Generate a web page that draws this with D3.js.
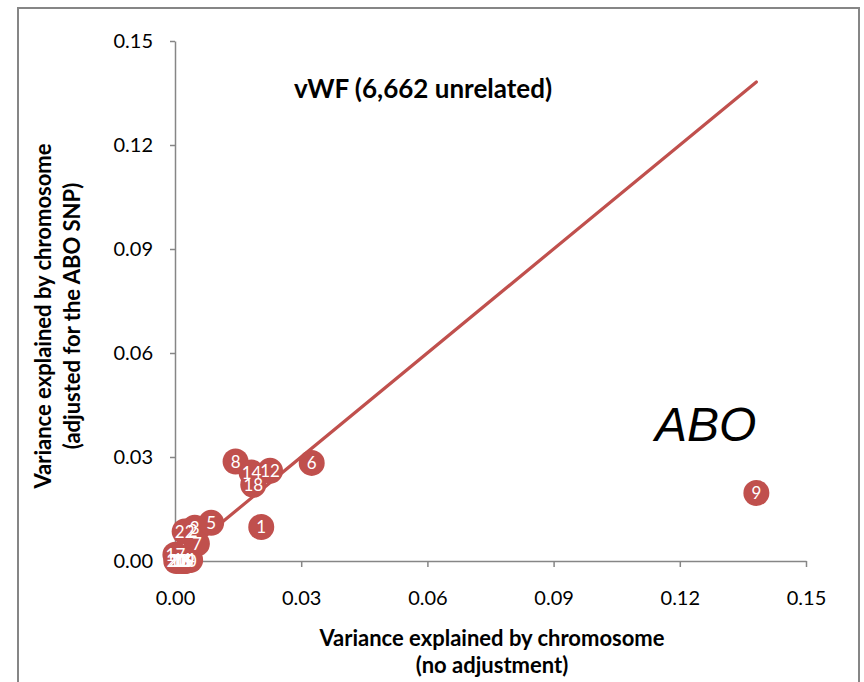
<!DOCTYPE html>
<html>
<head>
<meta charset="utf-8">
<script src="https://cdn.jsdelivr.net/npm/d3@7"></script>
<style>
  html, body { margin: 0; padding: 0; background: #fff; }
  svg { display: block; }
  .tick text { font-family: Lato, "Open Sans", sans-serif; font-size: 20px; fill: #000; }
</style>
</head>
<body>
<svg id="chart" width="864" height="682"></svg>
<script>
// Chromosome-wise variance explained, vWF (6,662 unrelated)
const chromosomes = ["1","2","3","4","5","6","7","8","9","10","11",
                     "12","13","14","15","16","17","18","19","20","21","22"];
const unadjusted = [0.0205, 0.0042, 0.0047, 0.0036, 0.0086, 0.0325, 0.0052, 0.0144, 0.1382, 0.0028, 0.0018,
                    0.0226, 0.0010, 0.0182, 0.0020, 0.0015, 0.0001, 0.0186, 0.0024, 0.0003, 0.0008, 0.0023];
const adjusted   = [0.0098, 0.0088, 0.0096, 0.0003, 0.0110, 0.0283, 0.0050, 0.0287, 0.0196, 0.0001, 0.0002,
                    0.0260, 0.0001, 0.0255, 0.0000, 0.0001, 0.0018, 0.0220, 0.0000, 0.0000, 0.0001, 0.0085];
const tickValues = [0, 0.03, 0.06, 0.09, 0.12, 0.15];
// identity reference line (y = x) over the range of the data
const identityLine = [0, 0.1382];

const svg = d3.select("#chart");
const red = "#c0504d";
const axisGrey = "#868686";

// outer chart frame
svg.append("rect")
  .attr("x", 18).attr("y", 8)
  .attr("width", 841).attr("height", 700)
  .attr("fill", "#fff")
  .attr("stroke", axisGrey).attr("stroke-width", 2);

const x = d3.scaleLinear().domain([0, 0.15]).range([175, 806]);
const y = d3.scaleLinear().domain([0, 0.15]).range([561, 41]);

const fmt = d3.format(".2f");

const yAxis = svg.append("g")
  .attr("transform", `translate(${x(0)},0)`)
  .call(d3.axisLeft(y).tickValues(tickValues).tickFormat(fmt)
        .tickSize(5).tickSizeOuter(0).tickPadding(17));

const xAxis = svg.append("g")
  .attr("transform", `translate(0,${y(0)})`)
  .call(d3.axisBottom(x).tickValues(tickValues).tickFormat(fmt)
        .tickSize(6).tickSizeOuter(0).tickPadding(24));

[xAxis, yAxis].forEach(g => {
  g.select(".domain").attr("stroke", axisGrey).attr("stroke-width", 1.5);
  g.selectAll(".tick line").attr("stroke", axisGrey).attr("stroke-width", 1.5);
});

// y = x line
svg.append("line")
  .attr("x1", x(identityLine[0])).attr("y1", y(identityLine[0]))
  .attr("x2", x(identityLine[1])).attr("y2", y(identityLine[1]))
  .attr("stroke", red).attr("stroke-width", 3.2).attr("stroke-linecap", "round");

const points = chromosomes.map((c, i) => ({ c, ux: unadjusted[i], ay: adjusted[i] }));

svg.append("g").selectAll("circle")
  .data(points).join("circle")
  .attr("cx", d => x(d.ux))
  .attr("cy", d => y(d.ay))
  .attr("r", 13)
  .attr("fill", red);

svg.append("g").selectAll("text")
  .data(points).join("text")
  .attr("x", d => x(d.ux))
  .attr("y", d => y(d.ay))
  .attr("dy", "0.36em")
  .attr("text-anchor", "middle")
  .attr("font-family", "Lato, 'Open Sans', sans-serif")
  .attr("font-size", 17)
  .attr("fill", "#fff")
  .text(d => d.c);

// title
svg.append("text")
  .attr("x", 423).attr("y", 98)
  .attr("text-anchor", "middle")
  .attr("font-family", "Lato, sans-serif")
  .attr("font-weight", "bold")
  .attr("font-size", 26)
  .text("vWF (6,662 unrelated)");

// gene annotation
svg.append("text")
  .attr("x", 655).attr("y", 441)
  .attr("font-family", "'Liberation Sans', Arial, sans-serif")
  .attr("font-style", "italic")
  .attr("font-size", 48)
  .text("ABO");

// x axis title
const xt = svg.append("text")
  .attr("text-anchor", "middle")
  .attr("font-family", "Lato, sans-serif")
  .attr("font-weight", "bold")
  .attr("font-size", 22);
xt.append("tspan").attr("x", 492).attr("y", 646).text("Variance explained by chromosome");
xt.append("tspan").attr("x", 492).attr("y", 673).text("(no adjustment)");

// y axis title
const yt = svg.append("text")
  .attr("transform", "translate(0,316) rotate(-90)")
  .attr("text-anchor", "middle")
  .attr("font-family", "Lato, sans-serif")
  .attr("font-weight", "bold")
  .attr("font-size", 22);
yt.append("tspan").attr("x", 0).attr("y", 51).text("Variance explained by chromosome");
yt.append("tspan").attr("x", 0).attr("y", 80).text("(adjusted for the ABO SNP)");
</script>
</body>
</html>
